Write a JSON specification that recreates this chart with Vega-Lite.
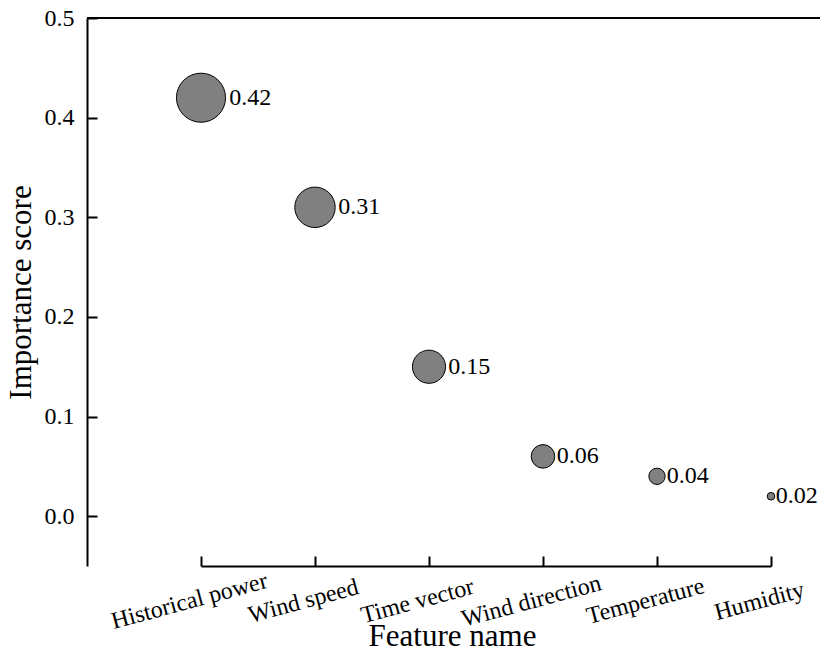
{
  "$schema": "https://vega.github.io/schema/vega-lite/v6.json",
  "width": 733,
  "height": 548,
  "autosize": "none",
  "padding": {"left": 87, "top": 18, "right": 0, "bottom": 86},
  "background": "white",
  "config": {
    "view": {"stroke": null},
    "font": "Liberation Serif",
    "axis": {
      "grid": false,
      "domainColor": "black",
      "domainWidth": 2,
      "tickColor": "black",
      "tickWidth": 2,
      "tickSize": -10,
      "labelColor": "black",
      "titleColor": "black",
      "labelFont": "Liberation Serif",
      "titleFont": "Liberation Serif",
      "titleFontWeight": "normal",
      "labelFontSize": 24,
      "titleFontSize": 31
    }
  },
  "data": {
    "values": [
      {"feature": "Historical power", "score": 0.42},
      {"feature": "Wind speed", "score": 0.31},
      {"feature": "Time vector", "score": 0.15},
      {"feature": "Wind direction", "score": 0.06},
      {"feature": "Temperature", "score": 0.04},
      {"feature": "Humidity", "score": 0.02}
    ]
  },
  "layer": [
    {
      "data": {"values": [{}]},
      "mark": {"type": "rule", "color": "black", "strokeWidth": 2},
      "encoding": {"y": {"datum": 0.5, "type": "quantitative"}}
    },
    {
      "mark": {"type": "circle", "color": "#808080", "stroke": "black", "strokeWidth": 1, "opacity": 1},
      "encoding": {
        "x": {
          "field": "feature", "type": "nominal", "sort": null,
          "scale": {"type": "point", "range": [114, 684], "padding": 0},
          "axis": {
            "labelAngle": -15, "labelAlign": "center", "labelBaseline": "middle",
            "labelPadding": 45, "labelOffset": -12,
            "title": "Feature name", "titleX": 365, "titleY": 79, "titleBaseline": "alphabetic"
          }
        },
        "y": {
          "field": "score", "type": "quantitative",
          "scale": {"domain": [-0.05, 0.5], "nice": false, "zero": false},
          "axis": {"values": [0, 0.1, 0.2, 0.3, 0.4, 0.5], "format": ".1f", "labelPadding": 23, "titlePadding": 7, "title": "Importance score"}
        },
        "size": {
          "field": "score", "type": "quantitative", "legend": null,
          "scale": {"domain": [0.02, 0.04, 0.06, 0.15, 0.31, 0.42], "range": [58, 266, 556, 1099, 1633, 2410]}
        }
      }
    },
    {
      "mark": {"type": "text", "align": "left", "baseline": "middle", "fontSize": 24, "color": "black"},
      "encoding": {
        "x": {"field": "feature", "type": "nominal", "sort": null},
        "y": {"field": "score", "type": "quantitative"},
        "xOffset": {
          "field": "score", "type": "quantitative",
          "scale": {"domain": [0.02, 0.04, 0.06, 0.15, 0.31, 0.42], "range": [4.8, 9.7, 13.8, 19.2, 23.3, 28.2]}
        },
        "text": {"field": "score", "type": "quantitative", "format": ".2f"}
      }
    }
  ]
}
